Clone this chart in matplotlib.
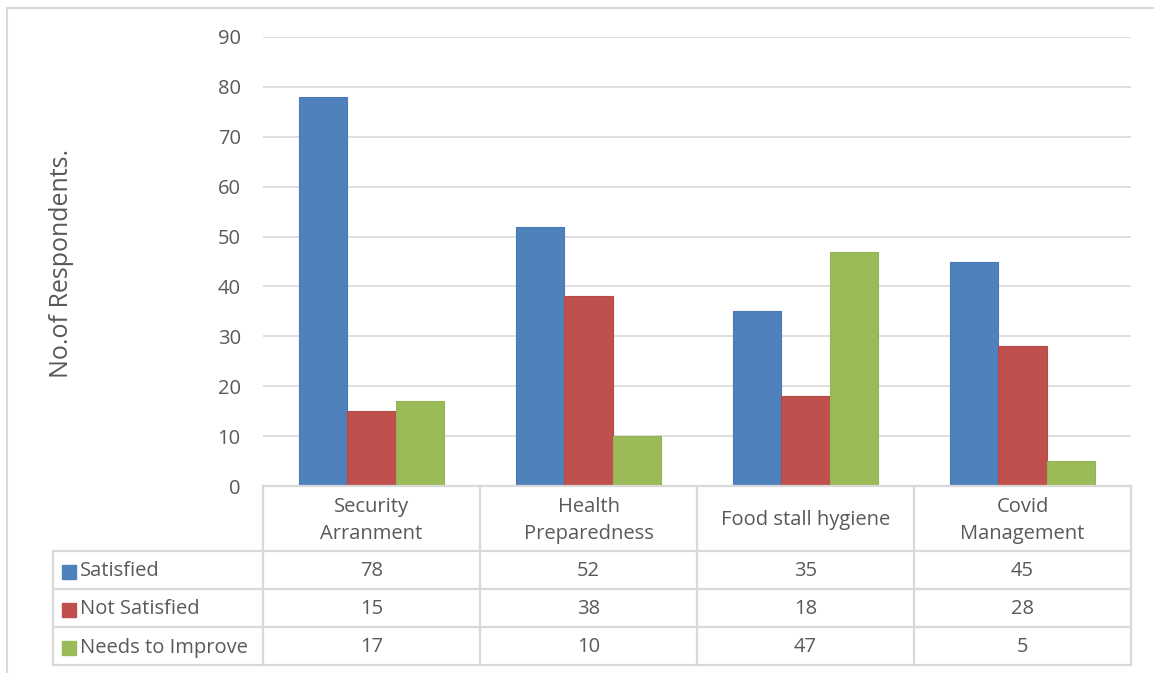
import matplotlib
matplotlib.use("Agg")
import matplotlib.pyplot as plt
from matplotlib.patches import Rectangle

categories = ["Security\nArranment", "Health\nPreparedness", "Food stall hygiene", "Covid\nManagement"]
series_names = ["Satisfied", "Not Satisfied", "Needs to Improve"]
satisfied = [78, 52, 35, 45]
not_satisfied = [15, 38, 18, 28]
needs_improve = [17, 10, 47, 5]
yticks = [0, 10, 20, 30, 40, 50, 60, 70, 80, 90]
ylabel = "No.of Respondents."

series = [satisfied, not_satisfied, needs_improve]
colors = ["#4f81bd", "#c0504d", "#9bbb59"]
edges = ["#4a7ab5", "#b54b48", "#93b356"]
text_color = "#595959"
grid_color = "#d9d9d9"
font = "Open Sans"
fs = 14.5

W, H = 1154, 673
fig = plt.figure(figsize=(W / 100, H / 100), dpi=100)

# pixel geometry
px_left, px_right = 263, 1131
px_top, px_bottom = 37, 486
ax = fig.add_axes([px_left / W, 1 - px_bottom / H, (px_right - px_left) / W, (px_bottom - px_top) / H])
n = len(categories)
bw = 0.222
for i, (vals, c, ec) in enumerate(zip(series, colors, edges)):
    xs = [k + (i - 1) * bw for k in range(n)]
    ax.bar(xs, vals, width=bw, color=c, edgecolor=ec, linewidth=0.8, zorder=3)
ax.set_xlim(-0.5, n - 0.5)
ax.set_ylim(0, 90)
ax.set_yticks(yticks)
ax.set_yticklabels([str(t) for t in yticks], fontsize=fs, color=text_color, family=font)
ax.tick_params(axis="y", length=0, pad=16)
ax.set_xticks([])
ax.grid(axis="y", color=grid_color, linewidth=1.2, zorder=0)
for s in ax.spines.values():
    s.set_visible(False)
ax.patch.set_alpha(0)

# overlay in pixel coordinates for table & frame
ov = fig.add_axes([0, 0, 1, 1], zorder=5)
ov.set_xlim(0, W)
ov.set_ylim(H, 0)
ov.axis("off")
ov.patch.set_alpha(0)

# outer frame (left & top)
ov.plot([7, 7], [8, H], color=grid_color, lw=1.5)
ov.plot([7, W], [8, 8], color=grid_color, lw=1.5)

# table
col_x = [px_left + k * (px_right - px_left) / n for k in range(n + 1)]
tab_left = 53
row_y = [486, 551, 589, 627, 665]
lc = "#d9d9d9"
lw = 1.6
for x in col_x:
    ov.plot([x, x], [row_y[0], row_y[-1]], color=lc, lw=lw)
ov.plot([tab_left, tab_left], [row_y[1], row_y[-1]], color=lc, lw=lw)
ov.plot([px_left, px_right], [row_y[0], row_y[0]], color=lc, lw=lw)
for y in row_y[1:]:
    ov.plot([tab_left, px_right], [y, y], color=lc, lw=lw)

# header labels
for k, cat in enumerate(categories):
    cx = (col_x[k] + col_x[k + 1]) / 2
    ov.text(cx, (row_y[0] + row_y[1]) / 2 + 2, cat, ha="center", va="center",
            fontsize=fs, color=text_color, family=font, linespacing=1.45)

# rows
for r, (name, vals, c) in enumerate(zip(series_names, series, colors)):
    cy = (row_y[r + 1] + row_y[r + 2]) / 2 + 1.5
    ov.add_patch(Rectangle((62, cy - 7), 14, 14, color=c))
    ov.text(80, cy, name, ha="left", va="center", fontsize=fs, color=text_color, family=font)
    for k, v in enumerate(vals):
        cx = (col_x[k] + col_x[k + 1]) / 2
        ov.text(cx, cy, str(v), ha="center", va="center", fontsize=fs, color=text_color, family=font)

# y label
ov.text(62, 263, ylabel, rotation=90, ha="center", va="center", fontsize=18,
        color=text_color, family=font)

fig.savefig("out.png", dpi=100)
